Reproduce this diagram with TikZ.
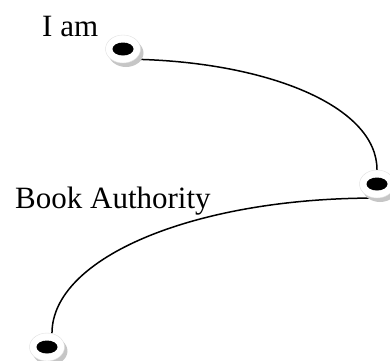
\documentclass[tikz,border=0pt]{standalone}
\usepackage{fontspec}
\setmainfont{Liberation Serif}
\usepackage{tikz}
\usetikzlibrary{shapes.geometric}
\usetikzlibrary{shadows}
\usetikzlibrary{backgrounds}

\begin{document}
\begin{tikzpicture}[x=1pt, y=-1pt,
    pin/.style={draw=gray!25, fill=white, ellipse, inner sep=0pt,
        minimum width=35pt, minimum height=28pt,
        drop shadow={shadow xshift=3pt, shadow yshift=-4pt, fill=gray!45, opacity=1},
        path picture={\fill[black] (path picture bounding box.center) ellipse (10.5pt and 6.5pt);}},
    word/.style={anchor=base west, inner sep=0pt, font=\fontsize{31}{31}\selectfont}]
    \useasboundingbox (0,0) rectangle (390,360);

    % Pins
    \node[pin] (top) at (123,49) {};
    \node[pin] (mid) at (377,184) {};
    \node[pin] (low) at (47,347) {};

    % Labels
    \node[word] (iam) at (42,36) {I am};
    \node[word] (book) at (15,208) {Book Authority};

    % Connecting curves, behind the pins
    \begin{scope}[on background layer]
        \draw[line width=1.5pt] (top.-40) .. controls +(132,3) and +(0,-64) .. (mid.north);
        \draw[line width=1.5pt] (mid.-100) .. controls +(-180,0) and +(0,-76) .. (low.70);
    \end{scope}
\end{tikzpicture}
\end{document}
